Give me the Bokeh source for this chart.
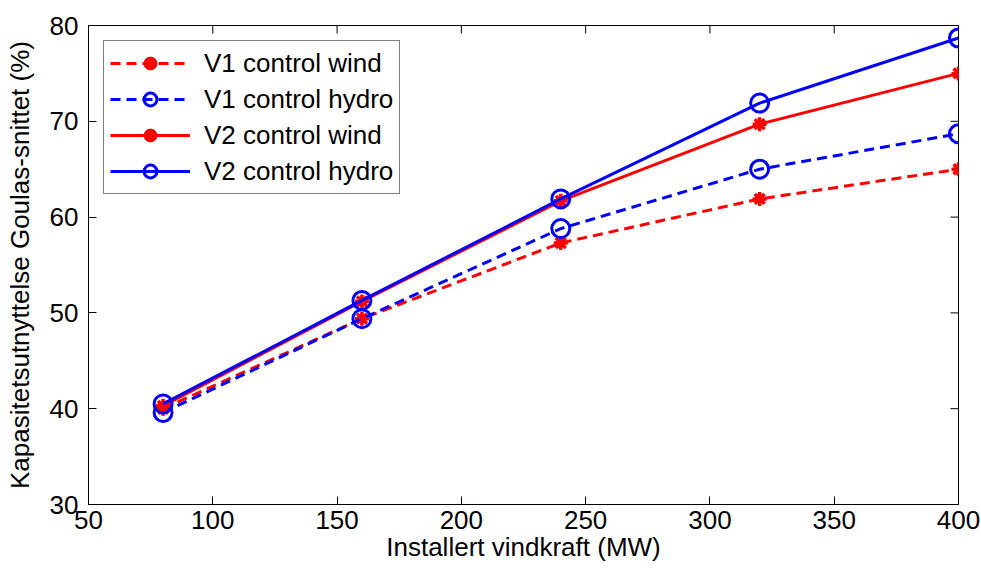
import math
from bokeh.plotting import figure
from bokeh.models import Range1d, FixedTicker
from bokeh.embed import file_html
from bokeh.resources import INLINE

x_mw = [80, 160, 240, 320, 400]
v1_wind = [40.0, 49.4, 57.3, 61.9, 65.0]
v1_hydro = [39.6, 49.4, 58.8, 65.0, 68.7]
v2_wind = [40.3, 51.2, 61.7, 69.7, 75.0]
v2_hydro = [40.5, 51.3, 61.9, 71.9, 78.7]

x_ticks = [50, 100, 150, 200, 250, 300, 350, 400]
y_ticks = [30, 40, 50, 60, 70, 80]
x_min, x_max = 50, 400
y_min, y_max = 30, 80

FONT = "Liberation Sans"
FS = "26px"
RED = "#FF0000"
BLUE = "#0000FF"

p = figure(width=981, height=569, output_backend="svg", toolbar_location=None,
           x_range=Range1d(x_min, x_max), y_range=Range1d(y_min, y_max),
           min_border_left=88, min_border_right=23, min_border_top=25, min_border_bottom=65,
           background_fill_color="white", border_fill_color="white")
p.grid.visible = False
p.outline_line_color = "black"
p.outline_line_width = 1

def style_axis(ax, ticks):
    ax.ticker = FixedTicker(ticks=ticks)
    ax.major_tick_in = 8
    ax.major_tick_out = 0
    ax.minor_tick_in = 0
    ax.minor_tick_out = 0
    ax.axis_line_color = "black"
    ax.major_tick_line_color = "black"
    ax.major_label_text_font = FONT
    ax.major_label_text_color = "black"
    ax.major_label_text_font_size = FS
    ax.axis_label_text_font = FONT
    ax.axis_label_text_font_style = "normal"
    ax.axis_label_text_color = "black"
    ax.axis_label_text_font_size = FS

style_axis(p.xaxis[0], x_ticks)
style_axis(p.yaxis[0], y_ticks)
p.xaxis[0].major_label_standoff = 6
p.xaxis[0].axis_label = "Installert vindkraft (MW)"
p.xaxis[0].axis_label_standoff = 0
p.yaxis[0].major_label_standoff = 10
p.yaxis[0].axis_label = "Kapasitetsutnyttelse Goulas-snittet (%)"
p.yaxis[0].axis_label_standoff = 12

# mirrored inward ticks on the top and right frame edges
p.ray(x=x_ticks, y=[y_max] * len(x_ticks), length=8, length_units="screen",
      angle=-math.pi / 2, line_color="black", line_width=1)
p.ray(x=[x_max] * len(y_ticks), y=y_ticks, length=8, length_units="screen",
      angle=math.pi, line_color="black", line_width=1)

series = [
    ("V1 control wind", v1_wind, RED, "dashed", "asterisk"),
    ("V1 control hydro", v1_hydro, BLUE, "dashed", "circle"),
    ("V2 control wind", v2_wind, RED, "solid", "asterisk"),
    ("V2 control hydro", v2_hydro, BLUE, "solid", "circle"),
]

for label, ys, color, dash, marker in series:
    ld = "10 6" if dash == "dashed" else "solid"
    p.line(x_mw, ys, line_color=color, line_width=3, line_dash=ld, legend_label=label)
    if marker == "circle":
        p.scatter(x_mw, ys, marker="circle", size=18, line_color=color, line_width=3,
                  fill_color=None, legend_label=label)
    else:
        p.scatter(x_mw, ys, marker="asterisk", size=14, line_color=color, line_width=3.5,
                  legend_label=label)
        p.scatter(x_mw, ys, marker="circle", size=8, line_color=color, fill_color=color,
                  legend_label=label)

lg = p.legend[0]
lg.location = "top_left"
lg.margin = 15
lg.padding = 6
lg.spacing = 4
lg.glyph_width = 80
lg.glyph_height = 32
lg.label_height = 20
lg.label_standoff = 14
lg.label_text_font = FONT
lg.label_text_font_size = FS
lg.label_text_color = "black"
lg.border_line_color = "black"
lg.border_line_width = 1
lg.background_fill_color = "white"
lg.background_fill_alpha = 1.0

open("out.html", "w").write(file_html(p, INLINE))
